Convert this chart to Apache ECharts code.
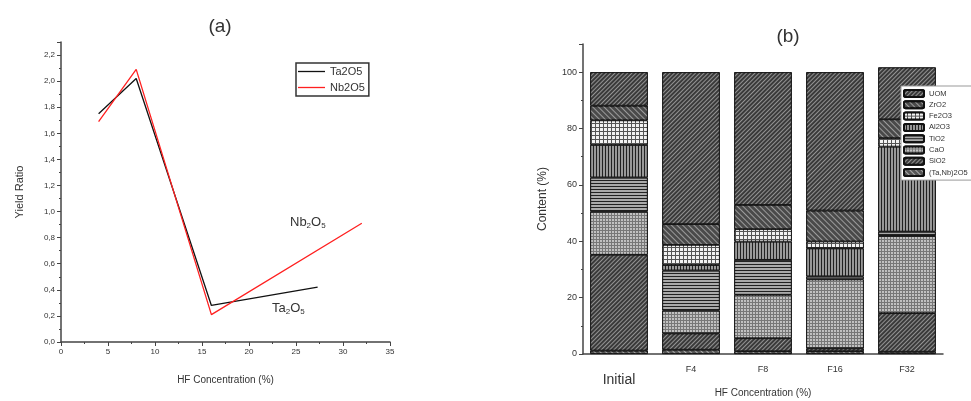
<!DOCTYPE html>
<html>
<head>
<meta charset="utf-8">
<script src="https://cdn.jsdelivr.net/npm/echarts@6/dist/echarts.min.js"></script>
<style>html,body{margin:0;background:#fff}#chart{width:971px;height:401px}</style>
</head>
<body>
<div id="chart"></div>
<script>
// (a) yield ratio vs HF concentration
var taX = [4, 8, 16, 27.3];
var taY = [1.75, 2.02, 0.28, 0.42];
var nbX = [4, 8, 16, 32];
var nbY = [1.69, 2.09, 0.21, 0.91];

// (b) content of each fraction, stacked bottom -> top
var fractions = ['Initial', 'F4', 'F8', 'F16', 'F32'];
var compNames = ['(Ta,Nb)2O5', 'SiO2', 'CaO', 'TiO2', 'Al2O3', 'Fe2O3', 'ZrO2', 'UOM'];
var taNb  = [1.2, 1.5, 1.0, 1.0, 0.8];
var sio2  = [34.0, 5.8, 4.6, 1.0, 13.7];
var cao   = [15.3, 8.1, 15.4, 24.5, 27.4];
var tio2  = [12.1, 14.2, 12.4, 1.0, 1.5];
var al2o3 = [11.6, 2.0, 6.5, 10.0, 30.2];
var fe2o3 = [8.7, 7.1, 4.4, 2.4, 3.0];
var zro2  = [5.2, 7.4, 8.6, 11.0, 6.7];
var uom   = [11.9, 53.9, 47.1, 49.1, 18.4];
var compValues = [taNb, sio2, cao, tio2, al2o3, fe2o3, zro2, uom];

var legendOrder = ['UOM', 'ZrO2', 'Fe2O3', 'Al2O3', 'TiO2', 'CaO', 'SiO2', '(Ta,Nb)2O5'];

// grey hatch styles (same order as compNames)
var hatch = [
    {color: '#555', decal: {color: 'rgba(255,255,255,0.5)', symbol: 'rect', symbolSize: 1, dashArrayX: [1, 0], dashArrayY: [1, 3], rotation: Math.PI / 4}},
    {color: '#3a3a3a', decal: {color: 'rgba(255,255,255,0.45)', symbol: 'rect', symbolSize: 1, dashArrayX: [1, 0], dashArrayY: [1, 2], rotation: -Math.PI / 4}},
    {color: '#777', decal: {color: 'rgba(255,255,255,0.8)', symbol: 'circle', symbolSize: 0.9, dashArrayX: [2, 1], dashArrayY: [2, 1]}},
    {color: '#aaa', decal: {color: '#222', symbol: 'rect', symbolSize: 1, dashArrayX: [1, 0], dashArrayY: [1, 2]}},
    {color: '#999', decal: {color: '#222', symbol: 'rect', symbolSize: 1, dashArrayX: [1, 0], dashArrayY: [1, 2], rotation: Math.PI / 2}},
    {color: '#555', decal: {color: '#f2f2f2', symbol: 'rect', symbolSize: 1, dashArrayX: [3, 1], dashArrayY: [3, 1]}},
    {color: '#4a4a4a', decal: {color: 'rgba(255,255,255,0.45)', symbol: 'rect', symbolSize: 1, dashArrayX: [1, 0], dashArrayY: [1, 3], rotation: Math.PI / 4}},
    {color: '#3a3a3a', decal: {color: 'rgba(255,255,255,0.45)', symbol: 'rect', symbolSize: 1, dashArrayX: [1, 0], dashArrayY: [1, 2], rotation: -Math.PI / 4}}
];

function pairs(xs, ys) {
    return xs.map(function (x, i) { return [x, ys[i]]; });
}
function comma(v) {
    return v.toFixed(1).replace('.', ',');
}

var myChart = echarts.init(document.getElementById('chart'));

var axisCol = '#444';
var txtCol = '#333';

var series = [
    {
        name: 'Ta2O5', type: 'line', xAxisIndex: 0, yAxisIndex: 0,
        data: pairs(taX, taY), symbol: 'none', color: '#111',
        lineStyle: {width: 1.3, color: '#111'}
    },
    {
        name: 'Nb2O5', type: 'line', xAxisIndex: 0, yAxisIndex: 0,
        data: pairs(nbX, nbY), symbol: 'none', color: '#ff2020',
        lineStyle: {width: 1.3, color: '#ff2020'}
    }
];
compNames.forEach(function (n, i) {
    series.push({
        name: n, type: 'bar', stack: 'c', xAxisIndex: 1, yAxisIndex: 1,
        barWidth: '80%',
        data: compValues[i],
        itemStyle: {
            color: hatch[i].color,
            decal: hatch[i].decal,
            borderColor: '#111',
            borderWidth: 0.8
        }
    });
});

option = {
    animation: false,
    title: [
        {text: '(a)', left: 215, top: 12, textAlign: 'center', textStyle: {fontSize: 19, fontWeight: 'normal', color: txtCol}},
        {text: '(b)', left: 783, top: 22, textAlign: 'center', textStyle: {fontSize: 19, fontWeight: 'normal', color: txtCol}}
    ],
    legend: [
        {
            data: ['Ta2O5', 'Nb2O5'],
            orient: 'vertical', left: 296, top: 63,
            icon: 'rect',
            itemWidth: 27, itemHeight: 1.3, itemGap: 5,
            padding: [3, 4, 3, 2],
            borderColor: '#333', borderWidth: 1.5,
            textStyle: {fontSize: 11, color: txtCol}
        },
        {
            data: legendOrder,
            orient: 'vertical', left: 901, top: 86,
            itemWidth: 20, itemHeight: 7, itemGap: 2.3,
            padding: [3, 10, 3, 2],
            backgroundColor: '#fff',
            borderColor: '#999', borderWidth: 1,
            textStyle: {fontSize: 7.5, color: txtCol}
        }
    ],
    grid: [
        {left: 61, right: 581, top: 42, bottom: 59, outerBoundsMode: 'none'},
        {left: 583, right: 28, top: 44, bottom: 47, outerBoundsMode: 'none'}
    ],
    xAxis: [
        {
            gridIndex: 0, type: 'value', min: 0, max: 35, interval: 5,
            name: 'HF Concentration (%)', nameLocation: 'middle', nameGap: 33,
            nameTextStyle: {fontSize: 10, color: txtCol},
            splitLine: {show: false},
            axisLine: {lineStyle: {color: axisCol, width: 1.5}},
            axisTick: {length: 4, lineStyle: {color: axisCol}},
            minorTick: {show: true, splitNumber: 2, length: 2, lineStyle: {color: axisCol}},
            axisLabel: {fontSize: 8, color: txtCol, margin: 6}
        },
        {
            gridIndex: 1, type: 'category', data: fractions,
            name: 'HF Concentration (%)', nameLocation: 'middle', nameGap: 34,
            nameMoveOverlap: false,
            nameTextStyle: {fontSize: 10, color: txtCol},
            axisLine: {lineStyle: {color: axisCol, width: 1.5}},
            axisTick: {alignWithLabel: true, length: 4, lineStyle: {color: axisCol}},
            axisLabel: {
                color: txtCol, margin: 6, interval: 0,
                formatter: function (v) { return v === 'Initial' ? '{big|' + v + '}' : '{small|' + v + '}'; },
                rich: {
                    big: {fontSize: 14, color: txtCol, padding: [13, 0, 0, 0]},
                    small: {fontSize: 9, color: txtCol, padding: [5, 0, 0, 0]}
                }
            }
        }
    ],
    yAxis: [
        {
            gridIndex: 0, type: 'value', min: 0, max: 2.3, interval: 0.2,
            name: 'Yield Ratio', nameLocation: 'middle', nameGap: 36,
            nameTextStyle: {fontSize: 11, color: txtCol},
            splitLine: {show: false},
            axisLine: {show: true, lineStyle: {color: axisCol, width: 1.5}},
            axisTick: {show: true, length: 4, lineStyle: {color: axisCol}},
            minorTick: {show: true, splitNumber: 2, length: 2, lineStyle: {color: axisCol}},
            axisLabel: {fontSize: 8, color: txtCol, margin: 6, showMaxLabel: false, formatter: comma}
        },
        {
            gridIndex: 1, type: 'value', min: 0, max: 110, interval: 20,
            name: 'Content (%)', nameLocation: 'middle', nameGap: 34,
            nameTextStyle: {fontSize: 12, color: txtCol},
            splitLine: {show: false},
            axisLine: {show: true, lineStyle: {color: axisCol, width: 1.5}},
            axisTick: {show: true, length: 4, lineStyle: {color: axisCol}},
            minorTick: {show: true, splitNumber: 2, length: 2, lineStyle: {color: axisCol}},
            axisLabel: {fontSize: 9, color: txtCol, margin: 6, showMaxLabel: false}
        }
    ],
    graphic: [
        {
            type: 'text', left: 290, top: 216,
            style: {
                text: '{n|Nb}{s|2}{n|O}{s|5}',
                rich: {n: {fontSize: 13, fill: txtCol}, s: {fontSize: 8, fill: txtCol, padding: [6, 0, 0, 0]}}
            }
        },
        {
            type: 'text', left: 272, top: 302,
            style: {
                text: '{n|Ta}{s|2}{n|O}{s|5}',
                rich: {n: {fontSize: 13, fill: txtCol}, s: {fontSize: 8, fill: txtCol, padding: [6, 0, 0, 0]}}
            }
        }
    ],
    series: series
};
myChart.setOption(option);
</script>
</body>
</html>
